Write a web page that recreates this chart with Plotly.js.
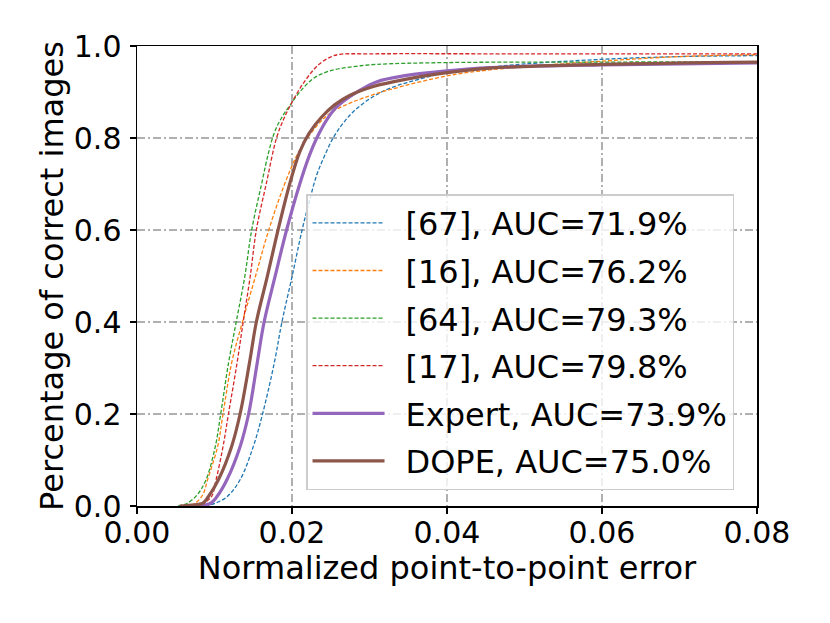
<!DOCTYPE html>
<html>
<head>
<meta charset="utf-8">
<script src="https://cdn.plot.ly/plotly-3.0.1.min.js"></script>
<style>html,body{margin:0;padding:0;background:#fff;}#chart{width:830px;height:623px;}</style>
</head>
<body>
<div id="chart"></div>
<script>
// Series names
const names = ["[67], AUC=71.9%", "[16], AUC=76.2%", "[64], AUC=79.3%", "[17], AUC=79.8%", "Expert, AUC=73.9%", "DOPE, AUC=75.0%"];

// [67]
const x67 = [0.0088, 0.0101, 0.0116, 0.0133, 0.0150, 0.0162, 0.0177, 0.0187, 0.0200, 0.0213, 0.0222, 0.0232, 0.0243, 0.0253, 0.0265, 0.0279, 0.0301, 0.0326, 0.0369, 0.0400, 0.0450, 0.0500, 0.0600, 0.0700, 0.0800];
const y67 = [0.000, 0.006, 0.020, 0.057, 0.129, 0.200, 0.310, 0.400, 0.498, 0.600, 0.660, 0.720, 0.765, 0.800, 0.830, 0.857, 0.886, 0.908, 0.930, 0.942, 0.953, 0.961, 0.971, 0.977, 0.979];

// [16]
const x16 = [0.0062, 0.0075, 0.0085, 0.0091, 0.0104, 0.0111, 0.0122, 0.0136, 0.0153, 0.0170, 0.0191, 0.0210, 0.0234, 0.0250, 0.0271, 0.0292, 0.0326, 0.0400, 0.0455, 0.0600, 0.0700, 0.0800];
const y16 = [0.000, 0.006, 0.025, 0.057, 0.129, 0.200, 0.310, 0.400, 0.500, 0.600, 0.702, 0.774, 0.830, 0.855, 0.873, 0.887, 0.905, 0.935, 0.948, 0.967, 0.977, 0.981];

// [64]
const x64 = [0.0053, 0.0065, 0.0078, 0.0089, 0.0101, 0.0108, 0.0118, 0.0128, 0.0139, 0.0148, 0.0161, 0.0170, 0.0178, 0.0188, 0.0197, 0.0210, 0.0228, 0.0249, 0.0279, 0.0309, 0.0400, 0.0600, 0.0800];
const y64 = [0.000, 0.006, 0.025, 0.057, 0.129, 0.200, 0.310, 0.400, 0.498, 0.600, 0.702, 0.770, 0.815, 0.848, 0.870, 0.900, 0.930, 0.946, 0.955, 0.960, 0.964, 0.965, 0.966];

// [17]
const x17 = [0.0068, 0.0085, 0.0096, 0.0102, 0.0111, 0.0118, 0.0129, 0.0137, 0.0146, 0.0154, 0.0167, 0.0180, 0.0189, 0.0197, 0.0213, 0.0234, 0.0251, 0.0262, 0.0300, 0.0500, 0.0800];
const y17 = [0.000, 0.006, 0.020, 0.057, 0.129, 0.200, 0.310, 0.400, 0.498, 0.600, 0.702, 0.800, 0.840, 0.868, 0.915, 0.959, 0.977, 0.982, 0.983, 0.983, 0.983];

// Expert
const xExp = [0.0080, 0.0095, 0.0103, 0.0116, 0.0133, 0.0144, 0.0155, 0.0164, 0.0178, 0.0193, 0.0210, 0.0222, 0.0232, 0.0245, 0.0258, 0.0279, 0.0309, 0.0348, 0.0400, 0.0455, 0.0600, 0.0800];
const yExp = [0.000, 0.006, 0.020, 0.057, 0.129, 0.200, 0.310, 0.400, 0.498, 0.600, 0.700, 0.760, 0.800, 0.840, 0.868, 0.895, 0.922, 0.936, 0.946, 0.953, 0.959, 0.963];

// DOPE
const xDope = [0.0055, 0.0070, 0.0085, 0.0092, 0.0105, 0.0122, 0.0133, 0.0145, 0.0154, 0.0168, 0.0182, 0.0197, 0.0210, 0.0222, 0.0238, 0.0255, 0.0275, 0.0305, 0.0348, 0.0400, 0.0455, 0.0600, 0.0800];
const yDope = [0.000, 0.002, 0.006, 0.020, 0.057, 0.129, 0.200, 0.310, 0.400, 0.498, 0.600, 0.700, 0.770, 0.810, 0.845, 0.872, 0.893, 0.912, 0.928, 0.942, 0.952, 0.960, 0.965];

const xTicks = [0, 0.02, 0.04, 0.06, 0.08];
const yTicks = [0, 0.2, 0.4, 0.6, 0.8, 1.0];

const colors = ["#1f77b4", "#ff7f0e", "#2ca02c", "#d62728", "#9467bd", "#8c564b"];
const xs = [x67, x16, x64, x17, xExp, xDope];
const ys = [y67, y16, y64, y17, yExp, yDope];

const traces = names.map((n, i) => ({
  x: xs[i], y: ys[i], name: "\u2002" + n, type: "scatter", mode: "lines",
  legendgroup: "g" + i,
  line: {
    color: colors[i],
    width: i < 4 ? 1.3 : 3.2,
    dash: i < 4 ? "4px,2px" : "solid",
    shape: "spline", smoothing: 1
  }
}));

const FONT = "DejaVu Sans, sans-serif";
const layout = {
  width: 830, height: 623,
  margin: {l: 137, r: 73, t: 46, b: 117},
  paper_bgcolor: "#fff", plot_bgcolor: "#fff",
  font: {family: FONT, size: 30, color: "#000"},
  showlegend: true,
  xaxis: {
    range: [0, 0.08], tickvals: xTicks, tickformat: ".2f",
    showline: true, mirror: true, linecolor: "#000", linewidth: 1.5,
    ticks: "outside", ticklen: 6, tickwidth: 1.5, tickcolor: "#000",
    ticklabelstandoff: -7,
    showgrid: true, gridcolor: "#b0b0b0", gridwidth: 1.2, griddash: "8px,3px,2px,3px",
    zeroline: false,
    tickfont: {family: FONT, size: 30},
    title: {text: "Normalized point-to-point error", font: {family: FONT, size: 32}, standoff: 6}
  },
  yaxis: {
    range: [0, 1.0], tickvals: yTicks, tickformat: ".1f",
    showline: true, mirror: true, linecolor: "#000", linewidth: 1.5,
    ticks: "outside", ticklen: 6, tickwidth: 1.5, tickcolor: "#000",
    ticklabelstandoff: 2,
    showgrid: true, gridcolor: "#b0b0b0", gridwidth: 1.2, griddash: "8px,3px,2px,3px",
    zeroline: false,
    tickfont: {family: FONT, size: 30},
    title: {text: "Percentage of correct images", font: {family: FONT, size: 32}, standoff: 0}
  },
  legend: {
    x: 0.2726, y: 0.678, xanchor: "left", yanchor: "top",
    bgcolor: "rgba(255,255,255,0.8)", bordercolor: "#cccccc", borderwidth: 1.5,
    font: {family: FONT, size: 32, color: "#000"},
    itemwidth: 72, tracegroupgap: 3, traceorder: "grouped"
  }
};

Plotly.newPlot("chart", traces, layout, {displayModeBar: false, staticPlot: true});
</script>
</body>
</html>
